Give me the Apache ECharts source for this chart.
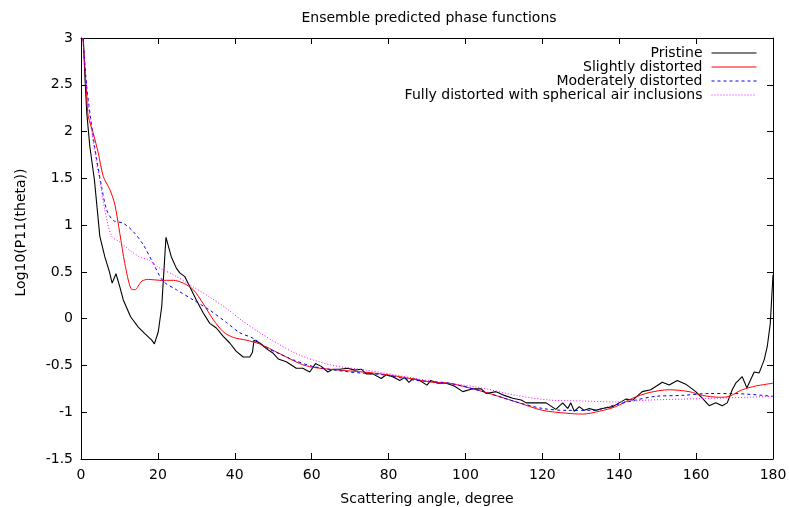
<!DOCTYPE html>
<html><head><meta charset="utf-8">
<script src="https://cdn.jsdelivr.net/npm/echarts@6/dist/echarts.min.js"></script>
<style>html,body{margin:0;padding:0;background:#fff}#c{width:789px;height:507px}</style>
</head><body><div id="c"></div>
<script>
const titleText = "Ensemble predicted phase functions";
const xName = "Scattering angle, degree";
const yName = "Log10(P11(theta))";
const seriesNames = ["Pristine", "Slightly distorted", "Moderately distorted", "Fully distorted with spherical air inclusions"];

const pristineX = [0.6,1.0,1.5,2.3,3.5,4.9,6.2,7.4,8.1,9.1,10.1,11,12.9,14.9,16.6,18.4,19.1,20.1,21,22.1,23.5,24.8,25.7,27,28.3,30,31.8,33.5,35.2,37,38.7,40.4,42.2,43.9,44.6,45,46.5,48.2,50,51.3,53.4,56,57.7,59.5,61,62.5,64.2,65.5,67.3,69.4,71.2,72.9,74.2,75.9,78.1,79.4,81.1,82.9,84.2,85.3,86.3,88.1,90,91,92.8,95,97.1,99.3,101.9,104.1,105.4,108,110.1,112.3,114.5,115.8,118.4,121,123.5,125.3,126.6,127.4,128.3,129.6,130.9,132.2,133.9,135.6,138.3,140,141.7,143.5,146,148.2,151.2,153,155.1,157.3,159.9,161.6,163.4,165.1,166.8,168.1,169.4,170.3,172,173.2,175.1,176.4,177.7,178.5,179.3,180];
const pristineY = [3.0,2.6,2.2,1.84,1.48,0.88,0.66,0.50,0.38,0.48,0.34,0.20,0.02,-0.09,-0.16,-0.23,-0.27,-0.14,0.13,0.87,0.66,0.54,0.49,0.45,0.34,0.20,0.06,-0.05,-0.10,-0.19,-0.26,-0.35,-0.41,-0.41,-0.36,-0.23,-0.26,-0.32,-0.37,-0.43,-0.46,-0.53,-0.53,-0.57,-0.48,-0.51,-0.57,-0.54,-0.54,-0.53,-0.55,-0.54,-0.59,-0.59,-0.64,-0.60,-0.62,-0.66,-0.63,-0.68,-0.64,-0.66,-0.71,-0.66,-0.69,-0.69,-0.72,-0.78,-0.75,-0.75,-0.80,-0.78,-0.82,-0.85,-0.87,-0.90,-0.90,-0.90,-0.97,-0.90,-0.96,-0.90,-0.99,-0.94,-0.98,-0.96,-0.98,-0.96,-0.94,-0.90,-0.86,-0.87,-0.78,-0.76,-0.68,-0.71,-0.66,-0.70,-0.78,-0.85,-0.93,-0.90,-0.93,-0.90,-0.76,-0.69,-0.62,-0.74,-0.57,-0.58,-0.44,-0.30,-0.05,0.47];

const slightX = [0.5,1,1.6,1.9,3.2,4.5,5.8,7.5,8.8,10.1,11.4,13,14,15.8,17.5,20.5,24,26.6,29.2,31.8,34.4,37,39.6,43,46.5,51.5,56.9,60.3,67.3,75.9,82.9,91.5,95.8,104.6,113.2,120.1,126.2,130.5,134.8,139.1,143.5,147.8,153,158.2,161.6,166,168.6,172,175.5,180];
const slightY = [3.0,2.7,2.30,2.16,1.98,1.77,1.52,1.38,1.22,0.91,0.59,0.32,0.31,0.40,0.42,0.41,0.41,0.38,0.31,0.16,-0.01,-0.14,-0.20,-0.23,-0.27,-0.37,-0.48,-0.52,-0.55,-0.58,-0.62,-0.68,-0.69,-0.78,-0.89,-0.98,-1.01,-1.02,-0.99,-0.94,-0.85,-0.79,-0.76,-0.78,-0.82,-0.84,-0.83,-0.76,-0.72,-0.69];

const moderateX = [0.5,1.5,2.8,4.1,5.4,6.7,8.4,11,13.6,16.2,18.8,21.4,24.8,29.2,33.5,37.8,41.3,44.8,48.2,51.3,55.2,60.3,69.9,78.5,87.2,95.8,104.6,113.2,120.1,126.2,133.1,139.1,144.3,149.5,156.5,163.4,169.4,180];
const moderateY = [3.0,2.48,2.05,1.70,1.40,1.16,1.05,1.02,0.93,0.79,0.59,0.40,0.31,0.20,0.09,-0.04,-0.15,-0.21,-0.31,-0.37,-0.44,-0.51,-0.57,-0.60,-0.66,-0.69,-0.78,-0.89,-0.96,-0.98,-0.98,-0.92,-0.87,-0.83,-0.82,-0.80,-0.80,-0.83];

const fullX = [0.5,1.5,2.8,4.1,4.9,6.2,8,10.1,12.7,15.3,17.5,20.5,24,29.2,33.5,37.8,42.2,46.5,51.3,56.9,65.5,74.2,82.9,91.5,102.8,113.2,121.9,130.5,139.1,147.8,156.5,165.1,173.7,180];
const fullY = [3.0,2.45,2.0,1.65,1.48,1.16,0.88,0.82,0.73,0.66,0.63,0.54,0.47,0.34,0.23,0.11,-0.03,-0.15,-0.27,-0.39,-0.50,-0.55,-0.61,-0.67,-0.73,-0.82,-0.87,-0.88,-0.89,-0.87,-0.86,-0.85,-0.84,-0.83];

function pairs(xs, ys){ return xs.map((x,i)=>[x, ys[i]]); }

const FONT = 'DejaVu Sans';
const chart = echarts.init(document.getElementById('c'), null, {renderer:'canvas'});
const axisCommon = {
  axisLine:{show:true, onZero:false, lineStyle:{color:'#000', width:1}},
  axisTick:{show:true, inside:true, length:6, lineStyle:{color:'#000'}},
  splitLine:{show:false},
};
chart.setOption({
  animation:false,
  backgroundColor:'#fff',
  title:{text:titleText, left:424, top:6, textAlign:'center', textStyle:{fontFamily:FONT, fontSize:14, fontWeight:'normal', color:'#000'}},
  grid:{left:81, right:16, top:38, bottom:48, containLabel:false, outerBoundsMode:'none'},
  legend:{
    data:seriesNames, orient:'vertical', right:27, top:41, align:'right',
    itemWidth:45, itemHeight:10, itemGap:0,
    itemStyle:{opacity:0},
    lineStyle:{width:1},
    textStyle:{fontFamily:FONT, fontSize:14, lineHeight:14, color:'#000', padding:[0,4,0,0]}
  },
  xAxis:[
    Object.assign({type:'value', min:0, max:180, interval:20, position:'bottom',
      name:xName, nameLocation:'middle', nameGap:33,
      nameTextStyle:{fontFamily:FONT, fontSize:14, color:'#000'},
      axisLabel:{fontFamily:FONT, fontSize:14, color:'#000', margin:9}}, axisCommon),
    Object.assign({type:'value', min:0, max:180, interval:20, position:'top', axisLabel:{show:false}}, axisCommon)
  ],
  yAxis:[
    Object.assign({type:'value', min:-1.5, max:3, interval:0.5, position:'left',
      name:yName, nameLocation:'middle', nameGap:53, nameRotate:90,
      nameTextStyle:{fontFamily:FONT, fontSize:14, color:'#000', padding:[0,0,0,32]},
      axisLabel:{fontFamily:FONT, fontSize:14, color:'#000', margin:8}}, axisCommon),
    Object.assign({type:'value', min:-1.5, max:3, interval:0.5, position:'right', axisLabel:{show:false}}, axisCommon)
  ],
  series:[
    {name:seriesNames[0], type:'line', data:pairs(pristineX, pristineY), symbol:'none', lineStyle:{color:'#000', width:1.1}, itemStyle:{color:'#000'}, clip:true},
    {name:seriesNames[1], type:'line', data:pairs(slightX, slightY), symbol:'none', smooth:0.3, lineStyle:{color:'#ff0000', width:1}, itemStyle:{color:'#ff0000'}, clip:true},
    {name:seriesNames[2], type:'line', data:pairs(moderateX, moderateY), symbol:'none', smooth:0.3, lineStyle:{color:'#0000ff', width:1, type:[3,3]}, itemStyle:{color:'#0000ff'}, clip:true},
    {name:seriesNames[3], type:'line', data:pairs(fullX, fullY), symbol:'none', smooth:0.3, lineStyle:{color:'#ff00ff', width:1, type:[1,2]}, itemStyle:{color:'#ff00ff'}, clip:true}
  ]
});
</script></body></html>
